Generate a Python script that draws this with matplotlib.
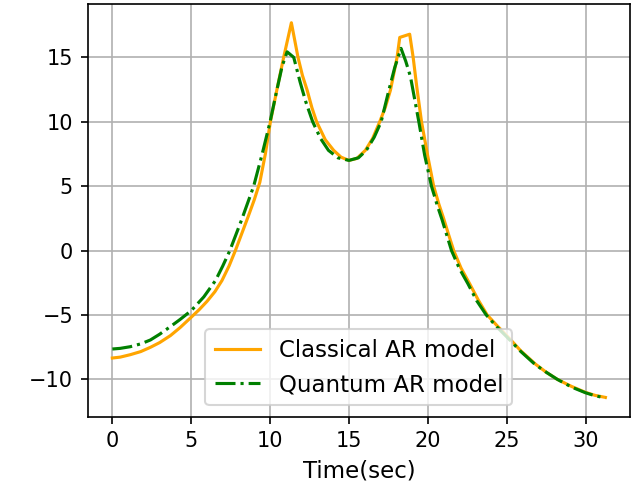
import matplotlib
matplotlib.use("Agg")
import matplotlib.pyplot as plt

# values
t_classical = [0, 0.5, 1.14, 1.8, 2.41, 3.0, 3.68, 4.3, 5.0, 5.5, 6.0, 6.5, 6.95,
               7.4, 7.8, 8.2, 8.6, 9.0, 9.35, 9.7, 10.02, 10.45, 10.86, 11.35,
               11.77, 12.05, 12.35, 12.65, 12.95, 13.5, 14.03, 14.5, 15.0, 15.5,
               16.04, 16.5, 16.95, 17.3, 17.63, 18.05, 18.22, 18.85, 19.07, 19.3,
               19.6, 20.0, 20.37, 20.7, 21.0, 21.3, 21.64, 22.1, 22.66, 23.2,
               23.76, 24.4, 25.0, 25.9, 26.82, 27.5, 28.2, 29.1, 30.0, 30.6, 31.26]
y_classical = [-8.35, -8.28, -8.09, -7.85, -7.52, -7.15, -6.61, -5.98, -5.18, -4.6,
               -3.95, -3.2, -2.33, -1.2, 0.0, 1.3, 2.6, 3.95, 5.3, 7.5, 10.0, 12.6,
               15.0, 17.69, 15.0, 13.6, 12.45, 11.1, 10.0, 8.6, 7.78, 7.25, 7.0,
               7.15, 7.78, 8.7, 10.0, 11.1, 12.45, 15.0, 16.55, 16.8, 15.0, 12.7,
               10.0, 7.3, 5.0, 3.6, 2.5, 1.3, 0.0, -1.35, -2.6, -3.85, -5.0, -5.85,
               -6.6, -7.8, -8.82, -9.45, -10.0, -10.55, -11.02, -11.25, -11.41]

t_quantum = [0, 0.5, 1.14, 1.8, 2.41, 3.0, 3.68, 4.3, 5.0, 5.8, 6.54, 7.0, 7.45,
             8.2, 8.96, 9.5, 10.0, 10.4, 10.76, 11.08, 11.5, 11.9, 12.25, 12.7,
             13.2, 13.7, 14.3, 15.0, 15.6, 16.1, 16.6, 17.04, 17.53, 17.9, 18.3,
             18.6, 18.9, 19.43, 19.8, 20.23, 20.6, 20.9, 21.5, 22.0, 22.55, 23.1,
             23.7, 24.35, 25.0, 25.9, 26.8, 27.5, 28.2, 29.1, 30.0, 30.6, 31.26]
y_quantum = [-7.65, -7.6, -7.47, -7.25, -6.95, -6.5, -5.91, -5.35, -4.67, -3.6,
             -2.33, -1.2, 0.0, 2.4, 5.0, 7.5, 10.0, 12.3, 14.3, 15.43, 15.0, 13.1,
             11.6, 10.0, 8.7, 7.78, 7.2, 7.0, 7.2, 7.78, 8.8, 10.0, 12.45, 14.2,
             15.7, 14.7, 13.5, 10.0, 7.4, 5.0, 3.5, 2.4, 0.0, -1.4, -2.6, -3.9,
             -5.0, -5.9, -6.7, -7.85, -8.85, -9.45, -10.0, -10.6, -11.05, -11.28,
             -11.45]

fig = plt.figure(figsize=(641 / 150, 486 / 150), dpi=150)
ax = fig.add_axes([0.1368, 0.1426, 0.983 - 0.1368, 0.9918 - 0.1426])

ax.plot(t_classical, y_classical, color='orange', linestyle='-', label='Classical AR model')
ax.plot(t_quantum, y_quantum, color='green', linestyle='-.', label='Quantum AR model')

ax.set_xlabel('Time(sec)', fontsize=11)
ax.grid(True)
ax.legend(loc='lower center', fontsize=11)

fig.savefig('out.png', dpi=150)
